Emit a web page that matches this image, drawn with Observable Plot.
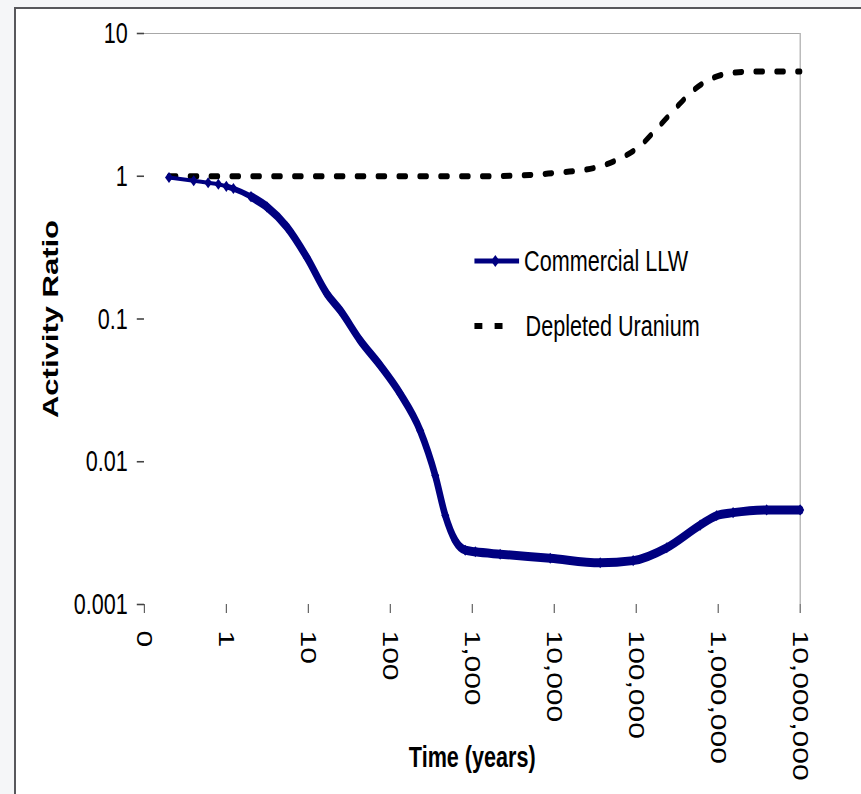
<!DOCTYPE html>
<html><head><meta charset="utf-8">
<script src="https://cdn.jsdelivr.net/npm/d3@7"></script>
<script src="https://cdn.jsdelivr.net/npm/@observablehq/plot@0.6"></script>
<style>
html,body{margin:0;padding:0;background:#f5f6f8;}
#wrap{position:relative;width:861px;height:794px;overflow:hidden;}
#frame{position:absolute;left:14px;top:7px;right:-4px;bottom:-4px;background:#fff;border-left:2px solid #58585c;border-top:2px solid #58585c;}
#chart{position:absolute;left:0;top:0;}
#legend{position:absolute;left:473px;top:0;width:400px;height:400px;transform:scaleX(0.72);transform-origin:0 0;font-family:'Liberation Sans',Arial,sans-serif;font-size:30px;color:#000;}
.lrow{position:absolute;left:0;height:42px;line-height:42px;white-space:nowrap;}
.lrow svg{position:absolute;left:0;top:0;}
.lrow span{position:absolute;top:0;}
[aria-label="x-axis label"] text,[aria-label="y-axis label"] text{font-weight:bold;}
[aria-label="y-axis label"] text{font-size:31px;}
</style>
</head><body>
<div id="wrap"><div id="frame"></div><div id="chart"></div><div id="legend"></div></div>
<script>
// ---- data ----
const llwTime  = [0.2, 0.4, 0.6, 0.8, 1, 1.22, 2, 3.13, 5.5, 9.6, 16.9, 24.5, 43, 75.5, 132, 232, 354, 469, 621, 822, 1090, 2190, 8940, 36400, 91800, 236000, 603000, 960000, 1520000, 3900000, 10000000];
const llwRatio = [0.98, 0.93, 0.90, 0.88, 0.85, 0.82, 0.72, 0.61, 0.44, 0.27, 0.150, 0.115, 0.0707, 0.0472, 0.030, 0.0165, 0.0080, 0.0042, 0.0028, 0.0024, 0.00234, 0.00225, 0.00211, 0.00196, 0.00203, 0.0025, 0.0036, 0.0042, 0.0044, 0.0046, 0.0046];
const duTime   = [0.2, 1, 10, 100, 1000, 5000, 10200, 18600, 34000, 61000, 110000, 179000, 294000, 491000, 876000, 1620000, 2900000, 5200000, 10000000];
const duRatio  = [1.0, 1.0, 1.0, 1.0, 1.0, 1.02, 1.055, 1.09, 1.16, 1.32, 1.62, 2.16, 2.94, 3.97, 4.9, 5.33, 5.42, 5.42, 5.42];
const seriesNames = ["Commercial LLW", "Depleted Uranium"];
const xTicks = [0.1, 1, 10, 100, 1000, 10000, 100000, 1000000, 10000000];
const yTicks = [0.001, 0.01, 0.1, 1, 10];
const xTitle = "Time (years)";
const yTitle = "Activity Ratio";

const llw = llwTime.map((t, i) => ({t, r: llwRatio[i]}));
const du  = duTime.map((t, i) => ({t, r: duRatio[i]}));

const SQ = 0.72;              // horizontal compression of the reference
const W = Math.round(861 / SQ);
const H = 794;
const NAVY = "#000080";

const plot = Plot.plot({
  width: W, height: H,
  marginLeft: 200, marginRight: W - 1111, marginTop: 33, marginBottom: 190,
  style: {background: "transparent", fontFamily: "'Liberation Sans', Arial, sans-serif", fontSize: "30px", color: "#000", overflow: "visible"},
  x: {type: "log", domain: [0.1, 1e7]},
  y: {type: "log", domain: [0.001, 10]},
  marks: [
    Plot.ruleY([10], {stroke: "#9a9a9a", strokeWidth: 1}),
    Plot.ruleX([1e7], {stroke: "#9a9a9a", strokeWidth: 1.4}),
    Plot.axisY({ticks: yTicks, tickFormat: d => String(d), tickSize: 10, tickPadding: 13, line: true, stroke: "#444", fill: "#000", strokeWidth: 1.6,
      label: yTitle, labelAnchor: "center", labelOffset: 142, labelArrow: "none"}),
    Plot.axisX({ticks: xTicks, tickFormat: d => d < 1 ? "0" : d3.format(",")(d), tickSize: 9, tickPadding: 17, tickRotate: 90, line: true, stroke: "#444", fill: "#000", strokeWidth: 1.4,
      label: xTitle, labelAnchor: "center", labelOffset: 162, labelArrow: "none"}),
    Plot.line(du, {x: "t", y: "r", stroke: "#000", strokeWidth: 6, strokeDasharray: "10,19", curve: "monotone-x"}),
    Plot.line(llw, {x: "t", y: "r", stroke: NAVY, strokeWidth: 4, curve: "monotone-x"}),
    Plot.line(llw.filter(d => d.t >= 1), {x: "t", y: "r", stroke: NAVY, strokeWidth: 6, curve: "monotone-x"}),
    Plot.line(llw.filter(d => d.t >= 2), {x: "t", y: "r", stroke: NAVY, strokeWidth: 9, curve: "monotone-x"}),
    Plot.dot(llw, {x: "t", y: "r", symbol: "diamond2", r: 5, fill: NAVY})
  ]
});
plot.setAttribute("width", 861);
plot.setAttribute("height", H);
plot.setAttribute("preserveAspectRatio", "none");
plot.style.width = "861px";
plot.style.height = H + "px";
plot.style.maxWidth = "none";
document.getElementById("chart").appendChild(plot);

// ---- legend ----
const leg = d3.select("#legend");
const r1 = leg.append("div").attr("class", "lrow").style("top", "240px");
const s1 = r1.append("svg").attr("width", 70).attr("height", 42);
s1.append("line").attr("x1", 2).attr("x2", 64).attr("y1", 21).attr("y2", 21).attr("stroke", NAVY).attr("stroke-width", 5);
s1.append("path").attr("d", "M31,15L37,21L31,27L25,21Z").attr("fill", NAVY);
r1.append("span").style("left", "71px").text(seriesNames[0]);
const r2 = leg.append("div").attr("class", "lrow").style("top", "305px");
const s2 = r2.append("svg").attr("width", 70).attr("height", 42);
s2.append("line").attr("x1", 2).attr("x2", 41).attr("y1", 21).attr("y2", 21).attr("stroke", "#000").attr("stroke-width", 6).attr("stroke-dasharray", "11,17");
r2.append("span").style("left", "73px").text(seriesNames[1]);
</script>
</body></html>
